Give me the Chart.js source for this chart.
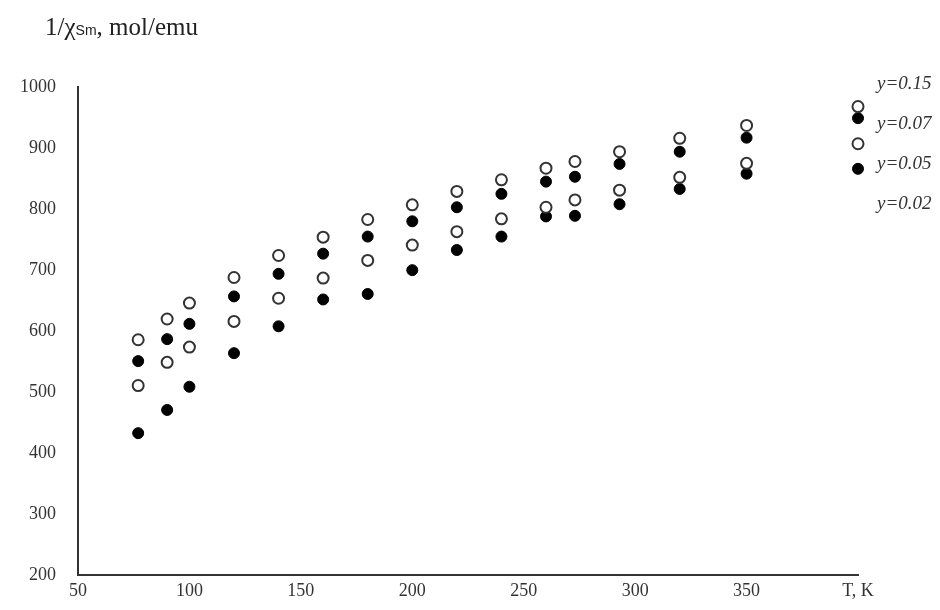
<!DOCTYPE html>
<html lang="en">
<head>
    <meta charset="UTF-8">
    <title>1/chi Sm vs T</title>
    <script src="https://cdn.jsdelivr.net/npm/chart.js@4/dist/chart.umd.min.js"></script>
    <style>
        body { margin: 0; background: #fff; }
        #wrap { position: relative; width: 940px; height: 610px; }
        #title {
            position: absolute; left: 45px; top: 13px;
            font-family: "Liberation Serif", "DejaVu Serif", serif;
            font-size: 25px; color: #222;
        }
        #title .sub { font-family: "Liberation Sans", sans-serif; font-size: 14px; }
    </style>
</head>
<body>
<div id="wrap">
    <div id="title">1/χ<span class="sub">Sm</span>, mol/emu</div>
    <canvas id="chart" width="940" height="610"></canvas>
</div>
<script>
    // temperatures, K
    const temps = [77, 90, 100, 120, 140, 160, 180, 200, 220, 240, 260, 273, 293, 320, 350];
    // 1/chi values for each composition
    const y015 = [586, 620, 646, 688, 724, 754, 783, 807, 829, 848, 867, 878, 894, 916, 937];
    const y007 = [551, 587, 612, 657, 694, 727, 755, 780, 803, 825, 845, 853, 874, 894, 917];
    const y005 = [511, 549, 574, 616, 654, 687, 716, 741, 763, 784, 803, 815, 831, 852, 875];
    const y002 = [433, 471, 509, 564, 608, 652, 661, 700, 733, 755, 788, 789, 808, 833, 858];
    const seriesNames = ['y=0.15', 'y=0.07', 'y=0.05', 'y=0.02'];
    // hand-made legend markers sit at T = 400
    const legendT = 400;
    const legendVals = [968, 949, 907, 866];
    const xTicks = [50, 100, 150, 200, 250, 300, 350, 400];
    const yTicks = [200, 300, 400, 500, 600, 700, 800, 900, 1000];

    const openPt = { pointBackgroundColor: '#fff', pointBorderColor: '#333', pointBorderWidth: 2 };
    const fullPt = { pointBackgroundColor: '#000', pointBorderColor: '#000', pointBorderWidth: 1 };
    const styles = [openPt, fullPt, openPt, fullPt];
    const allSeries = [y015, y007, y005, y002];

    const datasets = allSeries.map((vals, i) => Object.assign({
        label: seriesNames[i],
        data: temps.map((t, j) => ({ x: t, y: vals[j] })).concat([{ x: legendT, y: legendVals[i] }]),
        pointRadius: 5.5,
        showLine: false,
        clip: false
    }, styles[i]));

    const serif = "'Liberation Serif', 'DejaVu Serif', serif";

    // legend text on the right side
    const legendText = {
        id: 'legendText',
        afterDraw(chart) {
            const ctx = chart.ctx;
            const top = chart.chartArea.top;
            ctx.save();
            ctx.font = 'italic 19px ' + serif;
            ctx.fillStyle = '#333';
            ctx.textAlign = 'left';
            ctx.textBaseline = 'middle';
            seriesNames.forEach((name, i) => {
                ctx.fillText(name, 877, top - 3 + i * 40);
            });
            ctx.restore();
        }
    };

    new Chart(document.getElementById('chart'), {
        type: 'scatter',
        data: { datasets: datasets },
        options: {
            responsive: false,
            animation: false,
            layout: { padding: { top: 87, right: 82, bottom: 3, left: 0 } },
            plugins: { legend: { display: false }, tooltip: { enabled: false } },
            scales: {
                x: {
                    type: 'linear', min: 50, max: 400,
                    afterBuildTicks: s => { s.ticks = xTicks.map(v => ({ value: v })); },
                    grid: { display: false, drawTicks: false },
                    border: { color: '#333', width: 2 },
                    ticks: {
                        padding: 5, color: '#333',
                        font: { family: serif, size: 18 },
                        callback: v => v === 400 ? 'T, K' : String(v)
                    }
                },
                y: {
                    type: 'linear', min: 200, max: 1000,
                    afterBuildTicks: s => { s.ticks = yTicks.map(v => ({ value: v })); },
                    afterFit: s => { s.width = 78; },
                    grid: { display: false, drawTicks: false },
                    border: { color: '#333', width: 2 },
                    ticks: {
                        padding: 22, color: '#333',
                        font: { family: serif, size: 18 },
                        callback: v => String(v)
                    }
                }
            }
        },
        plugins: [legendText]
    });
</script>
</body>
</html>
